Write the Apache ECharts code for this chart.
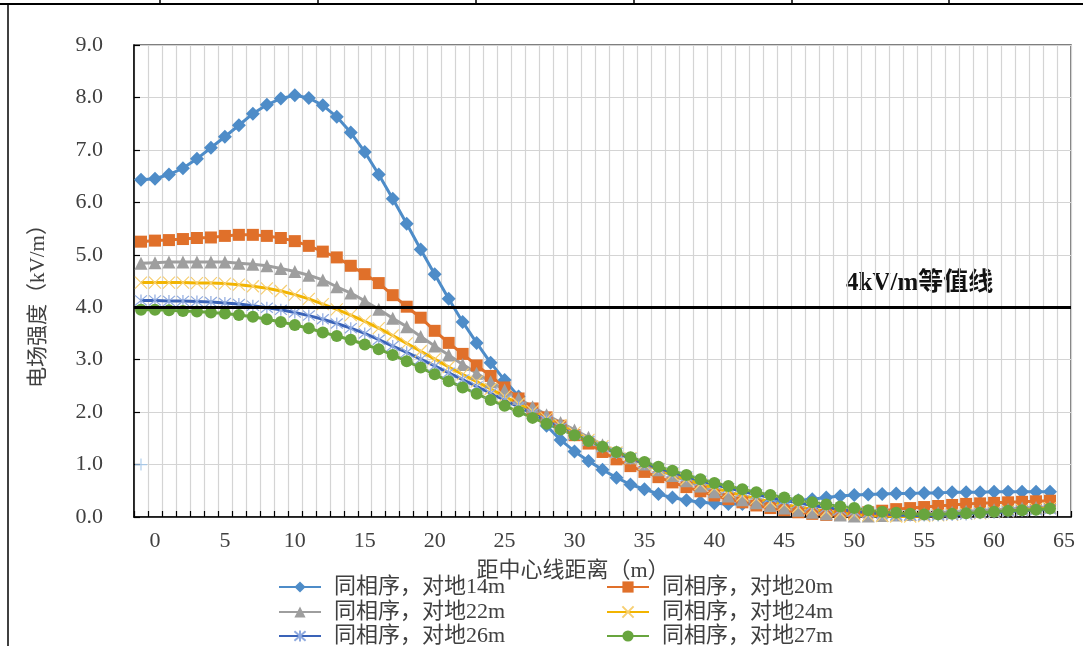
<!DOCTYPE html>
<html>
<head>
<meta charset="utf-8">
<script src="https://cdn.jsdelivr.net/npm/echarts@6/dist/echarts.min.js"></script>
<style>
html,body{margin:0;padding:0;background:#fff;}
#chart{width:1083px;height:646px;}
</style>
</head>
<body>
<div id="chart"></div>
<script>
// Categories: distance from centre line (m)
var categories = [];
for (var c = -1; c <= 65; c++) { categories.push(String(c)); }

var seriesNames = ['同相序，对地14m','同相序，对地20m','同相序，对地22m','同相序，对地24m','同相序，对地26m','同相序，对地27m'];

// values for x = -1 .. 64
var h14 = [6.43,6.45,6.53,6.65,6.83,7.04,7.25,7.47,7.69,7.86,7.98,8.04,7.99,7.85,7.63,7.33,6.96,6.53,6.07,5.59,5.10,4.63,4.16,3.72,3.32,2.94,2.61,2.30,2.02,1.74,1.47,1.25,1.07,0.90,0.75,0.62,0.53,0.44,0.37,0.32,0.28,0.26,0.25,0.25,0.26,0.28,0.30,0.32,0.34,0.37,0.40,0.42,0.43,0.44,0.45,0.45,0.46,0.46,0.47,0.47,0.47,0.48,0.48,0.48,0.48,0.48];
var h20 = [5.25,5.27,5.28,5.30,5.32,5.33,5.36,5.38,5.38,5.36,5.32,5.26,5.17,5.06,4.95,4.79,4.63,4.46,4.23,4.01,3.80,3.55,3.32,3.11,2.89,2.69,2.47,2.26,2.07,1.90,1.74,1.56,1.40,1.24,1.10,0.97,0.86,0.76,0.66,0.57,0.49,0.41,0.34,0.28,0.22,0.17,0.13,0.09,0.06,0.04,0.04,0.06,0.09,0.12,0.15,0.17,0.19,0.21,0.23,0.25,0.26,0.27,0.28,0.29,0.30,0.31];
var h22 = [4.84,4.85,4.86,4.86,4.86,4.86,4.86,4.84,4.82,4.79,4.74,4.68,4.61,4.52,4.39,4.27,4.12,3.96,3.79,3.63,3.44,3.26,3.09,2.91,2.74,2.58,2.42,2.26,2.10,1.95,1.80,1.66,1.52,1.38,1.25,1.13,1.01,0.90,0.79,0.69,0.59,0.48,0.40,0.33,0.27,0.22,0.17,0.13,0.09,0.06,0.04,0.02,0.02,0.03,0.04,0.05,0.06,0.08,0.09,0.11,0.12,0.14,0.15,0.17,0.18,0.19];
var h24 = [4.47,4.47,4.47,4.47,4.46,4.46,4.45,4.43,4.40,4.36,4.31,4.24,4.16,4.06,3.96,3.85,3.73,3.60,3.46,3.31,3.16,3.01,2.86,2.72,2.58,2.44,2.30,2.16,2.02,1.88,1.75,1.61,1.47,1.35,1.23,1.12,1.01,0.91,0.81,0.72,0.63,0.55,0.48,0.41,0.35,0.29,0.24,0.19,0.15,0.11,0.08,0.05,0.03,0.02,0.01,0.01,0.02,0.03,0.04,0.06,0.07,0.09,0.11,0.13,0.15,0.17];
var h26 = [4.13,4.13,4.12,4.12,4.11,4.10,4.08,4.06,4.03,3.99,3.95,3.90,3.84,3.77,3.69,3.60,3.50,3.38,3.26,3.14,3.01,2.88,2.75,2.62,2.49,2.36,2.23,2.10,1.97,1.84,1.70,1.57,1.45,1.33,1.22,1.12,1.02,0.93,0.85,0.77,0.69,0.62,0.55,0.49,0.43,0.37,0.32,0.27,0.22,0.18,0.14,0.11,0.08,0.06,0.04,0.03,0.03,0.03,0.04,0.05,0.07,0.08,0.10,0.12,0.13,0.15];
var h27 = [3.95,3.95,3.94,3.93,3.92,3.90,3.88,3.85,3.82,3.77,3.72,3.66,3.60,3.52,3.45,3.38,3.29,3.20,3.09,2.97,2.85,2.72,2.59,2.47,2.35,2.23,2.12,2.01,1.89,1.78,1.67,1.56,1.45,1.34,1.24,1.14,1.05,0.96,0.88,0.80,0.72,0.65,0.59,0.53,0.47,0.42,0.37,0.32,0.28,0.24,0.20,0.17,0.13,0.10,0.08,0.06,0.05,0.05,0.06,0.07,0.08,0.10,0.12,0.13,0.14,0.16];
var strayPoint = [['-1', 1.0]];
var thresholdValue = 4;

var serifFont = '"Liberation Serif","Noto Sans CJK SC",serif';
var colors = ['#4E8CC8','#E0702A','#9E9E9E','#F2B400','#3A63B8','#68A53E'];

function mkLine(name, data, color, symbol, size, extra) {
  var s = {
    name: name, type: 'line', data: data,
    symbol: symbol, symbolSize: size,
    lineStyle: { color: color, width: 3 },
    itemStyle: { color: color },
    emphasis: { disabled: true },
    animation: false
  };
  if (extra) { for (var k in extra) s[k] = extra[k]; }
  return s;
}

var chart = echarts.init(document.getElementById('chart'), null, { renderer: 'canvas' });

var series = [
  mkLine(seriesNames[0], h14, colors[0], 'diamond', 14, {
    markLine: {
      silent: true, symbol: 'none', animation: false,
      label: { show: false },
      lineStyle: { color: '#000', width: 3, type: 'solid' },
      data: [{ yAxis: thresholdValue }]
    }
  }),
  mkLine(seriesNames[1], h20, colors[1], 'rect', 12),
  mkLine(seriesNames[2], h22, colors[2], 'triangle', 13),
  mkLine(seriesNames[3], h24, colors[3], 'path://M0,0L10,10M10,0L0,10', 12, {
    itemStyle: { color: 'rgba(0,0,0,0)', borderColor: '#F7CF72', borderWidth: 1.2 }
  }),
  mkLine(seriesNames[4], h26, colors[4], 'path://M5,0L5,10M0.8,0.8L9.2,9.2M9.2,0.8L0.8,9.2', 12, {
    itemStyle: { color: 'rgba(0,0,0,0)', borderColor: '#8FAADF', borderWidth: 1.2 }
  }),
  mkLine(seriesNames[5], h27, colors[5], 'circle', 12),
  {
    name: 'stray', type: 'scatter', data: strayPoint,
    symbol: 'path://M5,0L5,10M0,5L10,5', symbolSize: 12,
    itemStyle: { color: 'rgba(0,0,0,0)', borderColor: '#9CC3E8', borderWidth: 1.2 },
    emphasis: { disabled: true }, animation: false
  }
];

var legendText = { fontFamily: serifFont, fontSize: 22, color: '#404040', lineHeight: 22, padding: [0, 0, 0, 8] };
function mkLegend(name, left, top) {
  return {
    data: [name], left: left, top: top, padding: 0,
    itemWidth: 42, itemHeight: 14, selectedMode: false,
    textStyle: legendText
  };
}

var option = {
  backgroundColor: '#ffffff',
  animation: false,
  grid: {
    left: 134, top: 45, right: 12, bottom: 129,
    show: true, borderColor: '#555', borderWidth: 1.5, backgroundColor: 'transparent'
  },
  xAxis: {
    type: 'category', data: categories, boundaryGap: true,
    axisLine: { show: true, onZero: false, lineStyle: { color: '#000', width: 1.5 } },
    axisTick: { show: true, inside: true, interval: 0, length: 6, lineStyle: { color: '#000', width: 1.2 } },
    splitLine: { show: true, interval: 0, lineStyle: { color: '#d4d4d4', width: 1.2 } },
    axisLabel: {
      interval: 0, margin: 13,
      formatter: function (v) { return (Number(v) % 5 === 0) ? v : ''; },
      fontFamily: serifFont, fontSize: 22, color: '#404040'
    }
  },
  yAxis: {
    type: 'value', min: 0, max: 9, interval: 1,
    axisLine: { show: true, lineStyle: { color: '#000', width: 1.5 } },
    axisTick: { show: true, inside: true, length: 6, lineStyle: { color: '#000', width: 1.2 } },
    splitLine: { show: true, lineStyle: { color: '#d4d4d4', width: 1.2 } },
    axisLabel: {
      margin: 31,
      formatter: function (v) { return v.toFixed(1); },
      fontFamily: serifFont, fontSize: 22, color: '#404040'
    }
  },
  legend: [
    mkLegend(seriesNames[0], 278, 576),
    mkLegend(seriesNames[1], 606, 576),
    mkLegend(seriesNames[2], 278, 601),
    mkLegend(seriesNames[3], 606, 601),
    mkLegend(seriesNames[4], 278, 625),
    mkLegend(seriesNames[5], 606, 625)
  ],
  graphic: [
    { type: 'text', x: 38, y: 301, rotation: Math.PI / 2,
      style: { text: '电场强度（kV/m）', fontFamily: serifFont, fontSize: 21, fill: '#404040', align: 'center', verticalAlign: 'middle' } },
    { type: 'text', x: 573, y: 571,
      style: { text: '距中心线距离（m）', fontFamily: serifFont, fontSize: 22, fill: '#404040', align: 'center', verticalAlign: 'middle' } },
    { type: 'text', x: 846, y: 284,
      style: { text: '4kV/m等值线', fontFamily: serifFont, fontSize: 25, fontWeight: 'bold', fill: '#111', align: 'left', verticalAlign: 'middle' } },
    { type: 'line', shape: { x1: 0, y1: 4, x2: 1083, y2: 4 }, style: { stroke: '#000', lineWidth: 2 } },
    { type: 'line', shape: { x1: 8, y1: 4, x2: 8, y2: 646 }, style: { stroke: '#000', lineWidth: 1.5 } },
    { type: 'line', shape: { x1: 160, y1: 0, x2: 160, y2: 4 }, style: { stroke: '#000', lineWidth: 1.5 } },
    { type: 'line', shape: { x1: 318, y1: 0, x2: 318, y2: 4 }, style: { stroke: '#000', lineWidth: 1.5 } },
    { type: 'line', shape: { x1: 476, y1: 0, x2: 476, y2: 4 }, style: { stroke: '#000', lineWidth: 1.5 } },
    { type: 'line', shape: { x1: 634, y1: 0, x2: 634, y2: 4 }, style: { stroke: '#000', lineWidth: 1.5 } },
    { type: 'line', shape: { x1: 792, y1: 0, x2: 792, y2: 4 }, style: { stroke: '#000', lineWidth: 1.5 } },
    { type: 'line', shape: { x1: 949, y1: 0, x2: 949, y2: 4 }, style: { stroke: '#000', lineWidth: 1.5 } }
  ],
  series: series
};

chart.setOption(option);
</script>
</body>
</html>
